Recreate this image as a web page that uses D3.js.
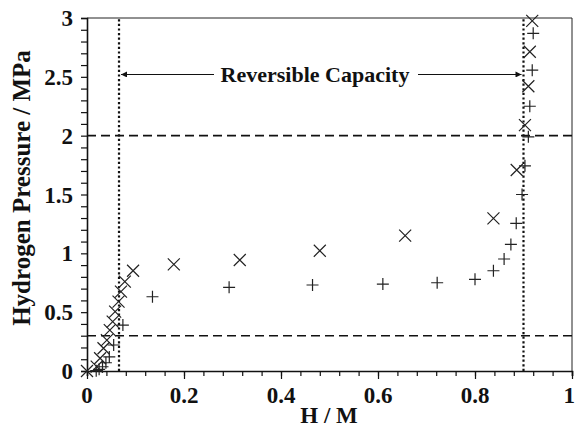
<!DOCTYPE html>
<html>
<head>
<meta charset="utf-8">
<script src="https://cdn.jsdelivr.net/npm/d3@7"></script>
<style>
  html, body { margin: 0; padding: 0; background: #fff; }
  svg text { font-family: "Liberation Serif", "Times New Roman", serif; font-weight: bold; fill: #111; }
</style>
</head>
<body>
<svg id="chart" width="575" height="428"></svg>
<script>
// Absorption isotherm (x marks): H/M and pressure in MPa
const absorptionHM = [0.0, 0.020, 0.027, 0.034, 0.041, 0.047, 0.053, 0.058, 0.065, 0.070, 0.078, 0.095,
  0.179, 0.315, 0.480, 0.656, 0.838, 0.886, 0.903, 0.910, 0.913, 0.918];
const absorptionP = [0.0, 0.037, 0.108, 0.193, 0.263, 0.348, 0.419, 0.504, 0.589, 0.674, 0.759, 0.852,
  0.906, 0.943, 1.022, 1.150, 1.297, 1.708, 2.090, 2.420, 2.713, 2.976];

// Desorption isotherm (+ marks)
const desorptionHM = [0.019, 0.025, 0.032, 0.039, 0.046, 0.055, 0.074, 0.135, 0.293, 0.465, 0.610, 0.722,
  0.800, 0.838, 0.860, 0.874, 0.885, 0.897, 0.903, 0.910, 0.913, 0.918, 0.920];
const desorptionP = [0.003, 0.014, 0.036, 0.070, 0.120, 0.221, 0.390, 0.631, 0.711, 0.731, 0.739, 0.750,
  0.779, 0.852, 0.952, 1.076, 1.255, 1.500, 1.744, 1.990, 2.250, 2.557, 2.870];

// Reference lines
const pressureLines = [2.0, 0.3];          // dashed horizontal
const capacityBounds = [0.066, 0.9];        // dotted vertical
const xTickValues = [0, 0.2, 0.4, 0.6, 0.8, 1];
const yTickValues = [0, 0.5, 1, 1.5, 2, 2.5, 3];
const xLabel = "H / M";
const yLabel = "Hydrogen Pressure / MPa";
const capacityLabel = "Reversible Capacity";
const capacityArrowP = 2.52;

const svg = d3.select("#chart");
const x = d3.scaleLinear().domain([0, 1]).range([87, 572]);
const y = d3.scaleLinear().domain([0, 3]).range([371, 18]);

const fmt = d => String(d);

// Frame (top and right)
svg.append("line").attr("x1", x(0)).attr("x2", x(1)).attr("y1", y(3)).attr("y2", y(3))
  .attr("stroke", "#222").attr("stroke-width", 1);
svg.append("line").attr("x1", x(1)).attr("x2", x(1)).attr("y1", y(0)).attr("y2", y(3))
  .attr("stroke", "#222").attr("stroke-width", 1);

// X axis: minor ticks then major ticks with labels
const gx = svg.append("g").attr("transform", `translate(0,${y(0)})`);
gx.call(d3.axisBottom(x).tickValues(d3.range(0, 1.0001, 0.04)).tickSize(5).tickFormat(""));
gx.call(g => g.append("g").call(d3.axisBottom(x).tickValues(xTickValues).tickSize(8).tickFormat(""))
  .select(".domain").remove());
gx.selectAll(".domain").attr("stroke-width", 1.6).attr("stroke", "#111");
gx.selectAll(".tick line").attr("stroke", "#111").attr("stroke-width", 1.2);
// the last label sits against the page edge, so it is right-aligned there
gx.selectAll(".xlab").data(xTickValues).enter().append("text")
  .attr("x", d => d === 1 ? x(d) + 3 : x(d)).attr("y", 32)
  .attr("text-anchor", d => d === 1 ? "end" : "middle")
  .style("font-size", "23px").text(fmt);

// Y axis
const gy = svg.append("g").attr("transform", `translate(${x(0)},0)`);
gy.call(d3.axisLeft(y).tickValues(d3.range(0, 3.0001, 0.1)).tickSize(6).tickFormat(""));
gy.selectAll(".domain").attr("stroke-width", 1.6).attr("stroke", "#111");
gy.selectAll(".tick line").attr("stroke", "#111").attr("stroke-width", 1.2);
gy.selectAll(".ylab").data(yTickValues).enter().append("text")
  .attr("x", -14).attr("y", d => y(d)).attr("dy", "0.35em").attr("text-anchor", "end")
  .style("font-size", "23px").text(fmt);

// Axis titles
svg.append("text").attr("x", 329).attr("y", 423).attr("text-anchor", "middle")
  .style("font-size", "23px").text(xLabel);
svg.append("text").attr("transform", "translate(30,188) rotate(-90)").attr("text-anchor", "middle")
  .style("font-size", "25px").text(yLabel);

// Reference lines
svg.selectAll(".hline").data(pressureLines).enter().append("line")
  .attr("x1", x(0)).attr("x2", x(1)).attr("y1", d => y(d)).attr("y2", d => y(d))
  .attr("stroke", "#111").attr("stroke-width", 1.6).attr("stroke-dasharray", "9,5");
svg.selectAll(".vline").data(capacityBounds).enter().append("line")
  .attr("x1", d => x(d)).attr("x2", d => x(d)).attr("y1", y(0)).attr("y2", y(3))
  .attr("stroke", "#111").attr("stroke-width", 2.2).attr("stroke-dasharray", "2.2,2.4");

// Capacity arrow with label
const defs = svg.append("defs");
defs.append("marker").attr("id", "head").attr("viewBox", "0 0 10 10").attr("refX", 10).attr("refY", 5)
  .attr("markerWidth", 8).attr("markerHeight", 6).attr("markerUnits", "userSpaceOnUse").attr("orient", "auto")
  .append("path").attr("d", "M0,0 L10,5 L0,10 Z").attr("fill", "#111");
const ay = y(capacityArrowP);
svg.append("line").attr("x1", 214).attr("x2", x(capacityBounds[0]) + 2).attr("y1", ay).attr("y2", ay)
  .attr("stroke", "#111").attr("stroke-width", 1.2).attr("marker-end", "url(#head)");
svg.append("line").attr("x1", 418).attr("x2", x(capacityBounds[1]) - 2).attr("y1", ay).attr("y2", ay)
  .attr("stroke", "#111").attr("stroke-width", 1.2).attr("marker-end", "url(#head)");
svg.append("text").attr("x", 315).attr("y", ay).attr("dy", "0.35em").attr("text-anchor", "middle")
  .style("font-size", "22px").text(capacityLabel);

// Markers
const r = 6;
const absorption = absorptionHM.map((h, i) => [h, absorptionP[i]]);
const desorption = desorptionHM.map((h, i) => [h, desorptionP[i]]);
svg.append("g").selectAll("path").data(absorption).enter().append("path")
  .attr("d", d => { const cx = x(d[0]), cy = y(d[1]);
    return `M${cx - r},${cy - r}L${cx + r},${cy + r}M${cx - r},${cy + r}L${cx + r},${cy - r}`; })
  .attr("stroke", "#222").attr("stroke-width", 1.2).attr("fill", "none");
svg.append("g").selectAll("path").data(desorption).enter().append("path")
  .attr("d", d => { const cx = x(d[0]), cy = y(d[1]);
    return `M${cx - r},${cy}L${cx + r},${cy}M${cx},${cy - r}L${cx},${cy + r}`; })
  .attr("stroke", "#222").attr("stroke-width", 1.2).attr("fill", "none");
</script>
</body>
</html>
